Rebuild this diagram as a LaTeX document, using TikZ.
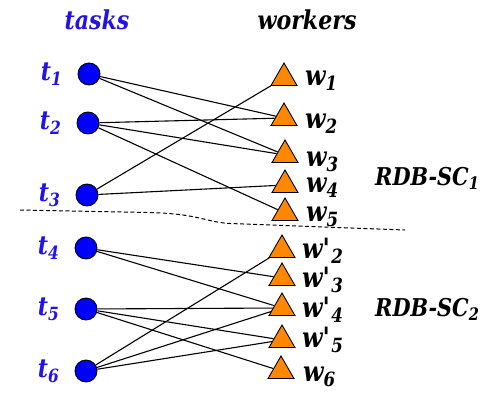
\documentclass[tikz,border=0pt]{standalone}
\usepackage{fontspec}
\setmainfont{DejaVu Serif}[FakeStretch=0.85]
\usetikzlibrary{positioning,shapes.geometric,backgrounds}
\definecolor{taskblue}{RGB}{0,0,255}
\definecolor{labelblue}{RGB}{34,20,230}
\definecolor{workerorange}{RGB}{255,136,0}
\tikzset{
  task/.style={circle, draw=black, fill=taskblue, minimum size=22pt, inner sep=0pt, line width=0.9pt},
  worker/.style={regular polygon, regular polygon sides=3, draw=black, fill=workerorange, minimum size=30pt, inner sep=0pt, line width=0.9pt},
  bigtext/.style={font=\fontsize{26}{28}\selectfont\bfseries\itshape, inner sep=0pt},
  tlabel/.style={bigtext, text=labelblue},
  wlabel/.style={font=\fontsize{28}{30}\selectfont\bfseries\itshape, inner sep=0pt, anchor=base west},
  grouplabel/.style={font=\fontsize{24.5}{27}\selectfont\bfseries\itshape, inner sep=0pt, anchor=base west},
  edge/.style={line width=1.1pt}
}
\newcommand{\wprime}[1]{w\textquotesingle\textsubscript{#1}}
\begin{document}
\begin{tikzpicture}[x=1pt, y=-1pt]
  \useasboundingbox (0,0) rectangle (485,402);
  % headers
  \node[tlabel, anchor=base] (tasks) at (97,29) {tasks};
  \node[bigtext, anchor=base] (workers) at (307,29) {workers};
  % tasks
  \node[task] (t1) at (89,74) {};
  \node[task] (t2) at (88,123) {};
  \node[task] (t3) at (87,195) {};
  \node[task] (t4) at (86,248) {};
  \node[task] (t5) at (86,309) {};
  \node[task] (t6) at (86,371) {};
  \node[tlabel, left=15pt of t1] (lt1) {t\textsubscript{1}};
  \node[tlabel, left=15pt of t2] (lt2) {t\textsubscript{2}};
  \node[tlabel, left=15pt of t3] (lt3) {t\textsubscript{3}};
  \node[tlabel, left=15pt of t4] (lt4) {t\textsubscript{4}};
  \node[tlabel, left=15pt of t5] (lt5) {t\textsubscript{5}};
  \node[tlabel, left=15pt of t6] (lt6) {t\textsubscript{6}};
  % workers
  \node[worker] (w1) at (284,78) {};
  \node[worker] (w2) at (284,118) {};
  \node[worker] (w3) at (285,155) {};
  \node[worker] (w4) at (285,185) {};
  \node[worker] (w5) at (285,213) {};
  \node[worker] (v2) at (282,250) {};
  \node[worker] (v3) at (282,278) {};
  \node[worker] (v4) at (282,308) {};
  \node[worker] (v5) at (282,340) {};
  \node[worker] (w6) at (281,371) {};
  \node[wlabel] (lw1) at (305,85) {w\textsubscript{1}};
  \node[wlabel] (lw2) at (305,128) {w\textsubscript{2}};
  \node[wlabel] (lw3) at (306,166) {w\textsubscript{3}};
  \node[wlabel] (lw4) at (306,192) {w\textsubscript{4}};
  \node[wlabel] (lw5) at (306,221) {w\textsubscript{5}};
  \node[wlabel] (lv2) at (302,258) {\wprime{2}};
  \node[wlabel] (lv3) at (302,287) {\wprime{3}};
  \node[wlabel] (lv4) at (302,317) {\wprime{4}};
  \node[wlabel] (lv5) at (302,347) {\wprime{5}};
  \node[wlabel] (lw6) at (303,381) {w\textsubscript{6}};
  % groups
  \node[grouplabel] (sc1) at (375,185) {RDB-SC\textsubscript{1}};
  \node[grouplabel] (sc2) at (375,316) {RDB-SC\textsubscript{2}};
  % split line
  \draw[line width=1pt, dash pattern=on 4pt off 2.5pt] (20,210) -- (150,212.5) .. controls (200,214) and (205,222) .. (230,223.5) -- (405,230);
  % assignments
  \begin{pgfonlayer}{background}
    \draw[edge] (t1) -- (w2);
    \draw[edge] (t1) -- (w3);
    \draw[edge] (t2) -- (w2);
    \draw[edge] (t2) -- (w3);
    \draw[edge] (t2) -- (w5);
    \draw[edge] (t3) -- (w1);
    \draw[edge] (t3) -- (w4);
    \draw[edge] (t4) -- (v3);
    \draw[edge] (t4) -- (v4);
    \draw[edge] (t5) -- (v4);
    \draw[edge] (t5) -- (v5);
    \draw[edge] (t5) -- (w6);
    \draw[edge] (t6) -- (v2);
    \draw[edge] (t6) -- (v4);
    \draw[edge] (t6) -- (v5);
  \end{pgfonlayer}
\end{tikzpicture}
\end{document}
